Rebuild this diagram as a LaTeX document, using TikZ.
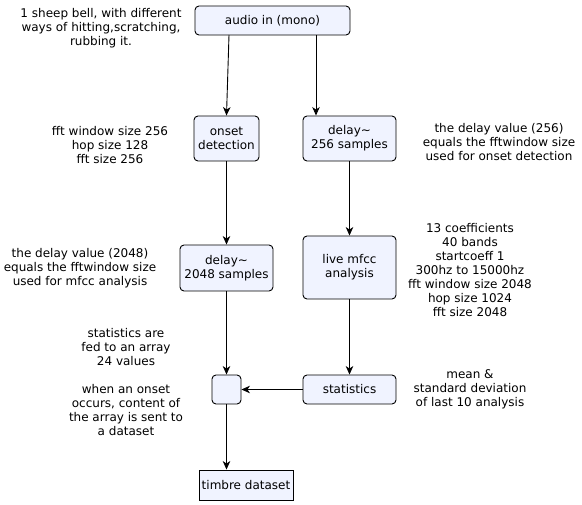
\documentclass[tikz,border=0pt]{standalone}
\usepackage{fontspec}
\setmainfont{DejaVu Sans}
\usetikzlibrary{arrows.meta}
\definecolor{boxfill}{RGB}{240,243,255}
\begin{document}
\begin{tikzpicture}[x=1pt,y=-1pt,
  every node/.style={font=\fontsize{12}{14}\selectfont, align=center, inner sep=0pt},
  proc/.style={draw=black, fill=boxfill, rounded corners=4pt, line width=0.9pt},
  sq/.style={draw=black, fill=boxfill, line width=0.9pt},
  note/.style={},
  arr/.style={-{Stealth[length=8.5pt,width=7.5pt,inset=2.5pt]}, line width=0.9pt}]
\useasboundingbox (0,0) rectangle (582,505);
% boxes
\node[proc, minimum width=155, minimum height=29] (audio) at (272.5,20.5) {audio in (mono)};
\node[proc, minimum width=65, minimum height=45] (onset) at (226.5,138.5) {onset\\detection};
\node[proc, minimum width=93, minimum height=45] (d256) at (349.5,138.5) {delay\textasciitilde\\256 samples};
\node[proc, minimum width=93, minimum height=46] (d2048) at (226.5,268) {delay\textasciitilde\\2048 samples};
\node[proc, minimum width=93, minimum height=63] (mfcc) at (349.5,267.5) {live mfcc\\analysis};
\node[proc, minimum width=29, minimum height=29] (arr) at (226.5,389.5) {};
\node[proc, minimum width=93, minimum height=29] (stats) at (349.5,389.5) {statistics};
\node[sq, minimum width=94, minimum height=30] (timbre) at (246,485) {timbre dataset};
% notes
\node[note] (n1) at (101,28) {1 sheep bell, with different\\ways of hitting,scratching,\\rubbing it.};
\node[note] (n2) at (110,145) {fft window size 256\\hop size 128\\fft size 256};
\node[note] (n3) at (499,142) {the delay value (256)\\equals the fftwindow size\\used for onset detection};
\node[note] (n4) at (80,268) {the delay value (2048)\\equals the fftwindow size\\used for mfcc analysis};
\node[note] (n5) at (470,270) {13 coefficients\\40 bands\\startcoeff 1\\300hz to 15000hz\\fft window size 2048\\hop size 1024\\fft size 2048};
\node[note] (n6) at (126,382) {statistics are\\fed to an array\\24 values\\[14pt]when an onset\\occurs, content of\\the array is sent to\\a dataset};
\node[note] (n7) at (470,389) {mean \&\\standard deviation\\of last 10 analysis};
% connectors
\coordinate (a1) at (229,35);
\coordinate (a2) at (316,35);
\draw[arr] (a1) -- (onset.north);
\draw[arr] (a2) -- (d256.north -| a2);
\draw[arr] (onset.south) -- (d2048.north);
\draw[arr] (d256.south) -- (mfcc.north);
\draw[arr] (d2048.south) -- (arr.north);
\draw[arr] (mfcc.south) -- (stats.north);
\draw[arr] (stats.west) -- (arr.east);
\draw[arr] (arr.south) -- (arr.south |- timbre.north);
\end{tikzpicture}
\end{document}
